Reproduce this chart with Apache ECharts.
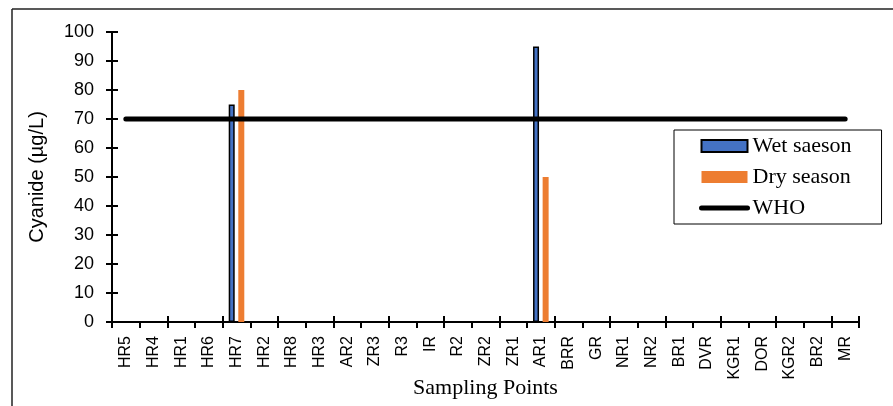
<!DOCTYPE html>
<html lang="en">
<head>
    <meta charset="UTF-8">
    <title>cyanide-chart</title>
    <style>
        html, body { margin: 0; padding: 0; background: #fff; }
        #chart { width: 893px; height: 406px; }
    </style>
</head>
<body>
    <div id="chart"></div>
</body>
<script src="https://cdn.jsdelivr.net/npm/echarts@6/dist/echarts.min.js"></script>
<script>
    // sampling points along the x axis
    const categories = ['HR5', 'HR4', 'HR1', 'HR6', 'HR7', 'HR2', 'HR8', 'HR3', 'AR2', 'ZR3', 'R3', 'IR', 'R2', 'ZR2',
        'ZR1', 'AR1', 'BRR', 'GR', 'NR1', 'NR2', 'BR1', 'DVR', 'KGR1', 'DOR', 'KGR2', 'BR2', 'MR']
    // cyanide values (µg/L), zero where nothing was detected
    const wetSeason = [0, 0, 0, 0, 75, 0, 0, 0, 0, 0, 0, 0, 0, 0, 0, 95, 0, 0, 0, 0, 0, 0, 0, 0, 0, 0, 0]
    const drySeason = [0, 0, 0, 0, 80, 0, 0, 0, 0, 0, 0, 0, 0, 0, 0, 50, 0, 0, 0, 0, 0, 0, 0, 0, 0, 0, 0]
    // WHO guideline, same at every point
    const whoLimit = categories.map(() => 70)

    const sans = '"Liberation Sans", Arial, sans-serif'
    const serif = '"Liberation Serif", "Times New Roman", serif'

    // zero bars are not drawn in the original (no border stub at the axis)
    const noZero = arr => arr.map(v => (v === 0 ? '-' : v))

    let chart = echarts.init(document.getElementById('chart'))

    // shared bits for the two overlaid axes (ticks that cross the axis line)
    const xBase = { type: 'category', data: categories, gridIndex: 0, position: 'bottom' }
    const yBase = { type: 'value', min: 0, max: 100, interval: 10, position: 'left' }

    chart.setOption({
        animation: false,
        grid: { left: 112, right: 34, top: 32, bottom: 84, outerBoundsMode: 'none', containLabel: false },
        graphic: [
            // outer frame: only top and left edges are visible
            { type: 'line', shape: { x1: 12, y1: 9, x2: 893, y2: 9 }, style: { stroke: '#222', lineWidth: 1.5 } },
            { type: 'line', shape: { x1: 12, y1: 9, x2: 12, y2: 406 }, style: { stroke: '#222', lineWidth: 1.5 } }
        ],
        legend: {
            orient: 'vertical',
            left: 674,
            top: 130,
            padding: [5, 30, 5, 25],
            borderColor: '#000',
            borderWidth: 1,
            itemWidth: 46,
            itemHeight: 12,
            itemGap: 9,
            textStyle: { fontFamily: serif, fontSize: 22, lineHeight: 22, color: '#000' },
            data: [
                { name: 'Wet saeson', icon: 'rect' },
                { name: 'Dry season', icon: 'rect' },
                { name: 'WHO', itemStyle: { opacity: 0 }, lineStyle: { width: 5, cap: 'round', color: '#000' } }
            ]
        },
        xAxis: [
            Object.assign({}, xBase, {
                name: 'Sampling Points',
                nameLocation: 'middle',
                nameGap: 55,
                nameMoveOverlap: false,
                nameTextStyle: { fontFamily: serif, fontSize: 22, color: '#000' },
                axisLine: { lineStyle: { color: '#000', width: 2 } },
                axisTick: { show: true, length: 6, lineStyle: { color: '#000', width: 2 } },
                axisLabel: { rotate: 90, margin: 14, fontFamily: sans, fontSize: 16, color: '#000', interval: 0 },
                splitLine: { show: false }
            }),
            Object.assign({}, xBase, {
                axisLine: { show: false },
                axisTick: { show: true, inside: true, length: 6, lineStyle: { color: '#000', width: 2 } },
                axisLabel: { show: false },
                splitLine: { show: false }
            })
        ],
        yAxis: [
            Object.assign({}, yBase, {
                name: 'Cyanide (µg/L)',
                nameLocation: 'middle',
                nameGap: 65,
                nameMoveOverlap: false,
                nameTextStyle: { fontFamily: sans, fontSize: 20, color: '#000' },
                axisLine: { show: true, lineStyle: { color: '#000', width: 2 } },
                axisTick: { show: true, length: 6, lineStyle: { color: '#000', width: 2 } },
                axisLabel: { margin: 18, fontFamily: sans, fontSize: 18, color: '#000' },
                splitLine: { show: false }
            }),
            Object.assign({}, yBase, {
                axisLine: { show: false },
                axisTick: { show: true, inside: true, length: 6, lineStyle: { color: '#000', width: 2 } },
                axisLabel: { show: false },
                splitLine: { show: false }
            })
        ],
        series: [
            {
                name: 'Wet saeson',
                type: 'bar',
                data: noZero(wetSeason),
                barWidth: 6,
                barGap: '60%',
                itemStyle: { color: '#4472C4', borderColor: '#000', borderWidth: 1.5 }
            },
            {
                name: 'Dry season',
                type: 'bar',
                data: noZero(drySeason),
                barWidth: 6,
                itemStyle: { color: '#ED7D31' }
            },
            {
                name: 'WHO',
                type: 'line',
                data: whoLimit,
                symbol: 'none',
                z: 5,
                itemStyle: { color: '#000' },
                lineStyle: { color: '#000', width: 5, cap: 'round' }
            }
        ]
    })
</script>
</html>
